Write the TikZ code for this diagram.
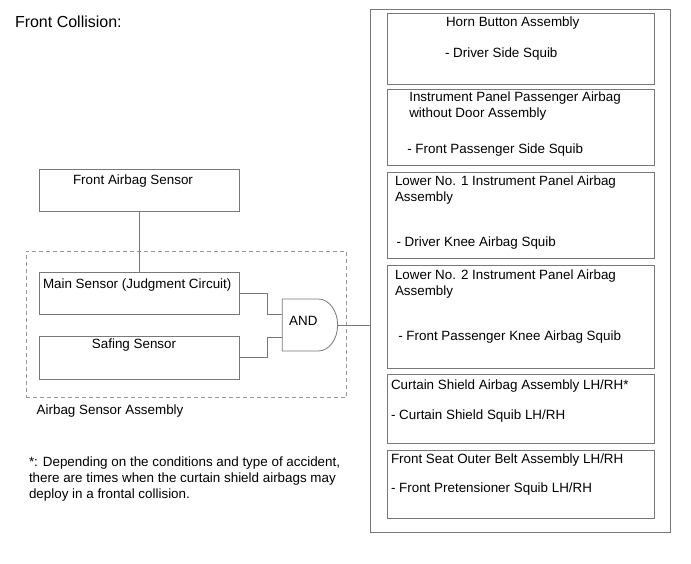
\documentclass[tikz,border=0pt]{standalone}
\usepackage{fontspec}
\setmainfont{Liberation Sans}
\definecolor{linegray}{RGB}{120,120,120}
\definecolor{dashgray}{RGB}{150,150,150}
\begin{document}
\begin{tikzpicture}[x=1pt,y=-1pt,
  box/.style={draw=linegray, line width=0.8pt, inner sep=0pt, outer sep=0pt},
  wire/.style={draw=linegray, line width=0.8pt},
  txt/.style={inner sep=0pt, outer sep=0pt, font=\fontsize{13.4}{16}\selectfont, text=black},
  ttl/.style={inner sep=0pt, outer sep=0pt, font=\fontsize{16}{19}\selectfont, text=black}]
\useasboundingbox (0,0) rectangle (691,564);
\fill[white] (0,0) rectangle (691,564);

% title
\node[ttl, anchor=base west] (title) at (15,28) {Front Collision:};

% left side
\node[box, minimum width=200pt, minimum height=42.4pt] (fas) at (139.3,190.5) {};
\node[txt, anchor=base] (fast) at (133,184.8) {Front Airbag Sensor};

\node[box, draw=dashgray, dashed, dash pattern=on 4pt off 3pt, minimum width=320.7pt, minimum height=146pt] (asm) at (186.35,324.3) {};
\node[txt, anchor=base west] (asmt) at (36.7,414.8) {Airbag Sensor Assembly};

\node[box, minimum width=200pt, minimum height=41.6pt] (main) at (139.3,293.5) {};
\node[txt, anchor=base west] (maint) at (43,288) {Main Sensor (Judgment Circuit)};

\node[box, minimum width=200pt, minimum height=42.3pt] (saf) at (139.3,357.85) {};
\node[txt, anchor=base] (saft) at (134,348) {Safing Sensor};

% AND gate
\coordinate (gin1) at (282.3,314.3);
\coordinate (gin2) at (282.3,337.7);
\coordinate (gtip) at (337.6,325);
\draw[wire] (282.3,299) -- (318.3,299) arc[start angle=90, end angle=-90, x radius=19.3pt, y radius=26pt] -- (282.3,351) -- cycle;
\node[txt, anchor=base] (andt) at (303.3,325.7) {AND};

% connectors
\draw[wire] (fas.south) -- (main.north);
\draw[wire] (main.east) -- (267.3,293.5) |- (gin1);
\draw[wire] (saf.east) -- (267.3,357.85) |- (gin2);

% right side
\node[box, minimum width=300pt, minimum height=523.4pt] (outer) at (520,271) {};
\draw[wire] (gtip) -- (gtip -| outer.west);

\node[box, minimum width=266.7pt, minimum height=70.7pt] (b1) at (520.65,48.65) {};
\node[box, minimum width=266.7pt, minimum height=76.4pt] (b2) at (520.65,127.5) {};
\node[box, minimum width=266.7pt, minimum height=86pt] (b3) at (520.65,215.3) {};
\node[box, minimum width=266.7pt, minimum height=103.3pt] (b4) at (520.65,316.65) {};
\node[box, minimum width=266.7pt, minimum height=69pt] (b5) at (520.65,408.8) {};
\node[box, minimum width=266.7pt, minimum height=68.3pt] (b6) at (520.65,484.15) {};

\node[txt, anchor=base west] (b1a) at (446,26.5) {Horn Button Assembly};
\node[txt, anchor=base west] (b1b) at (445,58) {- Driver Side Squib};

\node[txt, anchor=base west] (b2a) at (409.3,102) {Instrument Panel Passenger Airbag};
\node[txt, anchor=base west] (b2b) at (409.3,117.5) {without Door Assembly};
\node[txt, anchor=base west] (b2c) at (407.3,153.8) {- Front Passenger Side Squib};

\node[txt, anchor=base west] (b3a) at (395,185.8) {Lower No. 1 Instrument Panel Airbag};
\node[txt, anchor=base west] (b3b) at (395,201.3) {Assembly};
\node[txt, anchor=base west] (b3c) at (396.5,246.3) {- Driver Knee Airbag Squib};

\node[txt, anchor=base west] (b4a) at (395,279.8) {Lower No. 2 Instrument Panel Airbag};
\node[txt, anchor=base west] (b4b) at (395,295.5) {Assembly};
\node[txt, anchor=base west] (b4c) at (398.3,340.8) {- Front Passenger Knee Airbag Squib};

\node[txt, anchor=base west] (b5a) at (391,389.8) {Curtain Shield Airbag Assembly LH/RH*};
\node[txt, anchor=base west] (b5b) at (391,419.8) {- Curtain Shield Squib LH/RH};

\node[txt, anchor=base west] (b6a) at (391,463) {Front Seat Outer Belt Assembly LH/RH};
\node[txt, anchor=base west] (b6b) at (391,492.5) {- Front Pretensioner Squib LH/RH};

% footnote
\node[txt, anchor=base west] (fn1) at (29,466) {*: Depending on the conditions and type of accident,};
\node[txt, anchor=base west] (fn2) at (29,482) {there are times when the curtain shield airbags may};
\node[txt, anchor=base west] (fn3) at (29,498) {deploy in a frontal collision.};
\end{tikzpicture}
\end{document}
